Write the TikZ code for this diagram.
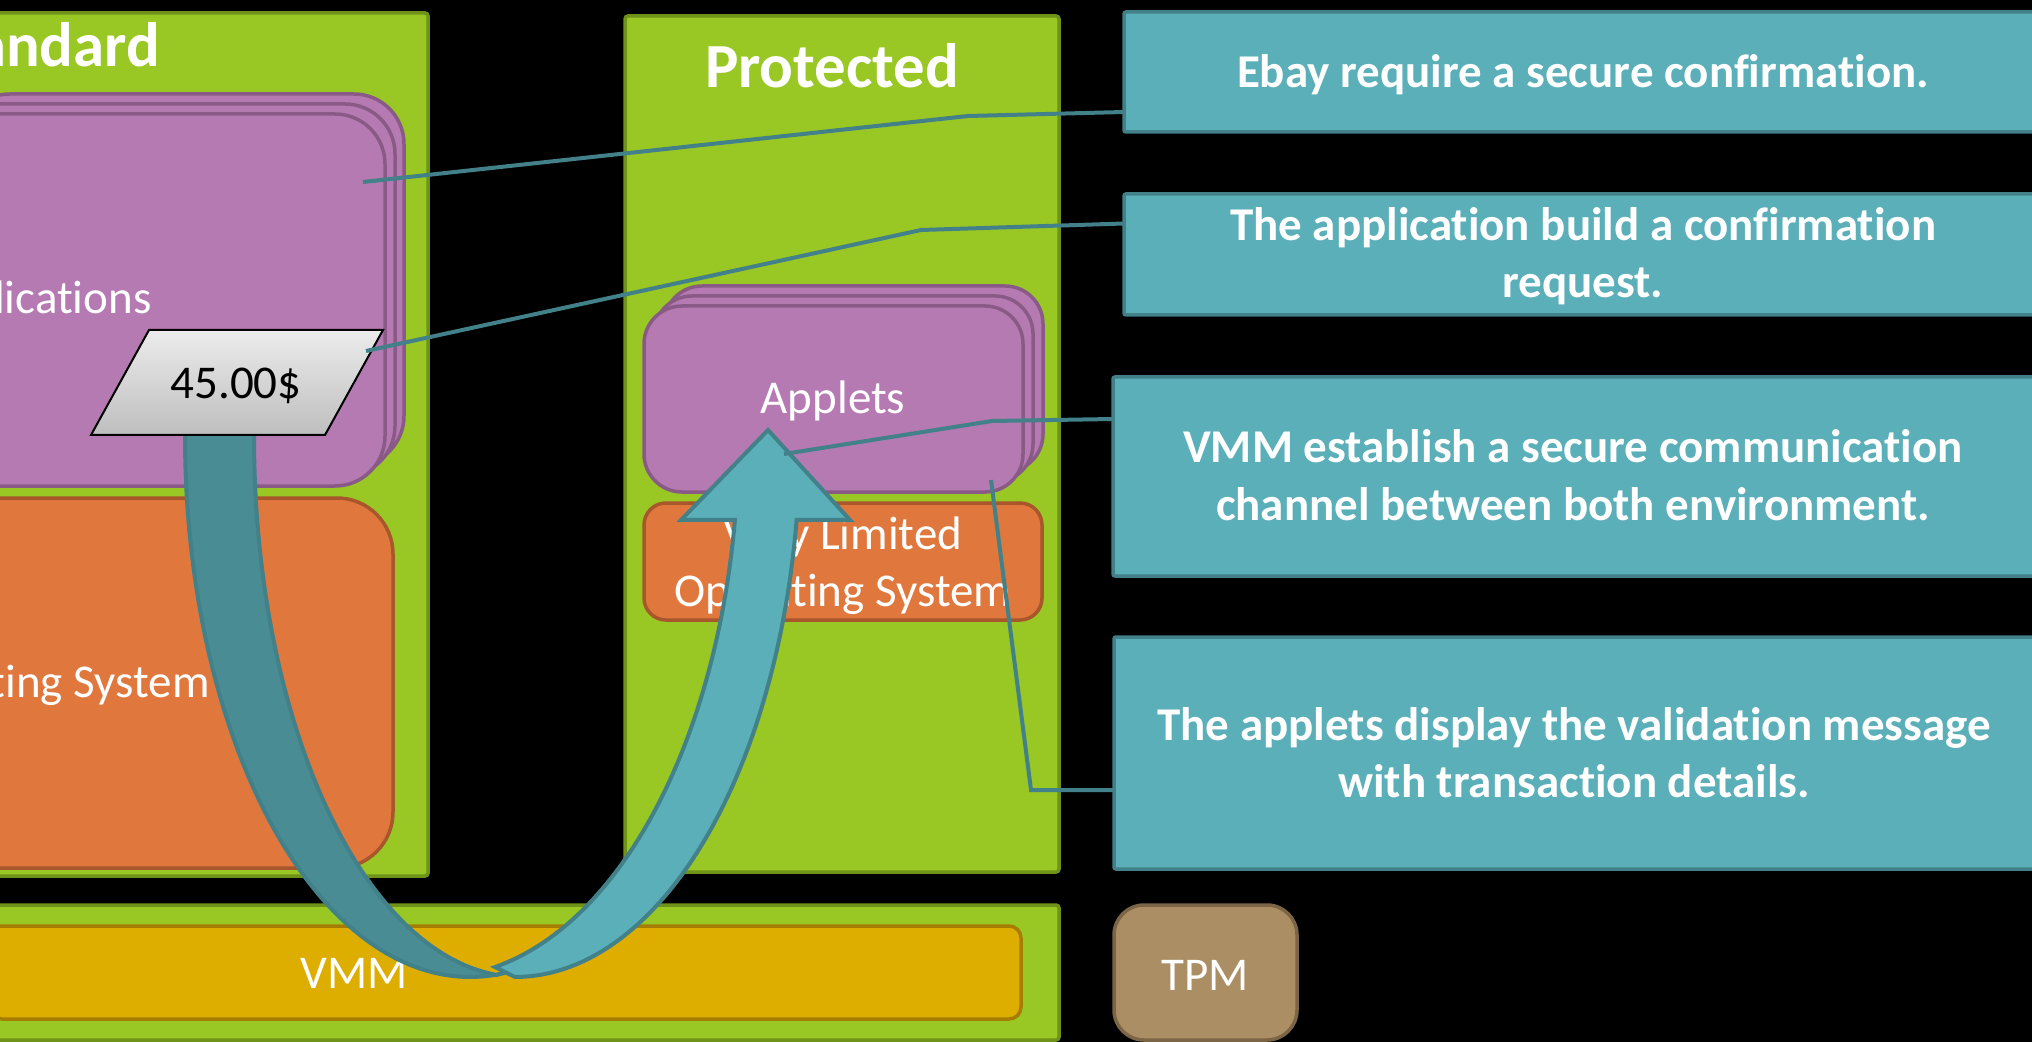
\documentclass[tikz,border=0pt]{standalone}
\usepackage{fontspec}
\setmainfont{Carlito}[Ligatures={NoCommon}]
\usetikzlibrary{calc}
\definecolor{cGrn}{HTML}{99C723}
\definecolor{cGrnB}{HTML}{6E9318}
\definecolor{cPur}{HTML}{B57AB2}
\definecolor{cPurB}{HTML}{8A5A86}
\definecolor{cOrg}{HTML}{E0783E}
\definecolor{cOrgB}{HTML}{A8562B}
\definecolor{cGold}{HTML}{DDAD00}
\definecolor{cGoldB}{HTML}{A67D00}
\definecolor{cTan}{HTML}{AB8E64}
\definecolor{cTanB}{HTML}{7C6546}
\definecolor{cTeal}{HTML}{5AAFB8}
\definecolor{cTealB}{HTML}{42818A}
\definecolor{cTealD}{HTML}{4A8C94}
\definecolor{cPriceT}{HTML}{ECECEC}
\definecolor{cPriceB}{HTML}{BEBEBE}
\newcommand{\mytwo}[2]{\begin{tabular}[t]{@{}c@{}}#1\\#2\end{tabular}}
\begin{document}
\begin{tikzpicture}[x=0.5pt,y=-0.5pt,
  box/.style={draw, line width=1.75pt, inner sep=0pt, outer sep=0pt, anchor=north west},
  greenbox/.style={box, fill=cGrn, draw=cGrnB, rounded corners=1.5pt},
  purbox/.style={box, fill=cPur, draw=cPurB},
  orgbox/.style={box, fill=cOrg, draw=cOrgB},
  callout/.style={box, fill=cTeal, draw=cTealB, rounded corners=1pt},
  conn/.style={draw=cTealB, line width=2pt},
  wtxt/.style={text=white, inner sep=0pt, font=\fontsize{23.5}{28.5}\selectfont},
  ttl/.style={text=white, inner sep=0pt, font=\fontsize{31.4}{37}\selectfont\bfseries},
  ctxt/.style={text=white, inner sep=0pt, font=\fontsize{23.5}{28.5}\selectfont\bfseries},
  band/.style={draw=cTealB, line width=2pt, line join=round},
]
\path[use as bounding box] (0,0) rectangle (2032,1042);
\clip (0,0) rectangle (2032,1042);
\fill[black] (0,0) rectangle (2032,1042);

% environments
\node[greenbox, minimum width=219pt, minimum height=431.5pt] (std) at (-10,13) {};
\node[greenbox, minimum width=217pt, minimum height=428pt] (prot) at (625,16) {};
\node[greenbox, minimum width=534.5pt, minimum height=67.5pt] (hw) at (-10,905) {};
\node[box, fill=cGold, draw=cGoldB, rounded corners=6pt, minimum width=515.5pt, minimum height=46.5pt] (vmm) at (-10,926) {};
\node[box, fill=cTan, draw=cTanB, rounded corners=15pt, minimum width=91.5pt, minimum height=67.5pt] (tpm) at (1114,905) {};

% standard side
\node[purbox, rounded corners=25pt, minimum width=222pt, minimum height=186pt] (appsC) at (-40,94) {};
\node[purbox, rounded corners=25pt, minimum width=222.5pt, minimum height=186pt] (appsB) at (-50,104) {};
\node[purbox, rounded corners=25pt, minimum width=222.5pt, minimum height=186pt] (apps) at (-60,114) {};
\node[orgbox, rounded corners=28pt, minimum width=226.5pt, minimum height=185pt] (os) at (-60,498) {};

% protected side
\node[purbox, rounded corners=19pt, minimum width=189.5pt, minimum height=93pt] (appletsC) at (664,286) {};
\node[purbox, rounded corners=19pt, minimum width=189.5pt, minimum height=93pt] (appletsB) at (654,296) {};
\node[purbox, rounded corners=19pt, minimum width=189.5pt, minimum height=93pt] (applets) at (644,306) {};
\node[orgbox, rounded corners=11pt, minimum width=199pt, minimum height=58.5pt] (vlos) at (644,503) {};

% texts
\node[ttl, anchor=base east] (tStd) at (160,67) {Standard};
\node[ttl, anchor=base] (tProt) at (832,88) {Protected};
\node[wtxt, anchor=base east] (tApps) at (152,314) {Applications};
\node[wtxt, anchor=base east] (tOS) at (210,697) {Operating System};
\node[wtxt, anchor=base] (tApplets) at (833,414) {Applets};
\node[wtxt, anchor=base] (tVlos) at (843,549) {\mytwo{Very Limited}{Operating System}};
\node[wtxt, anchor=base] (tVmm) at (354,988) {VMM};
\node[wtxt, anchor=base] (tTpm) at (1205,990) {TPM};

% curved arrow: back (dark) band
\filldraw[band, fill=cTealD] (185,425) -- (185,437)
  -- plot[domain=180:80, samples=60, variable=\t] ({470+285*cos(\t)},{437+540*sin(\t)})
  -- plot[domain=95:180, samples=60, variable=\t] ({520+266*cos(\t)},{437+540*sin(\t)})
  -- (254,425) -- cycle;
% front (light) band with head
\filldraw[band, fill=cTeal, line join=miter]
  plot[domain=79:8.84, samples=60, variable=\t] ({437.5+301*cos(\t)},{437+540*sin(\t)})
  -- (681,520) -- (768,430) -- (850,520)
  -- plot[domain=8.84:90, samples=60, variable=\t] ({515+285*cos(\t)},{437+540*sin(\t)})
  -- cycle;

% price tag
\shadedraw[draw=black, line width=1pt, top color=cPriceT, bottom color=cPriceB, line join=miter]
  (149,330) -- (383,330) -- (325,435) -- (91,435) -- cycle;
\node[anchor=base, inner sep=0pt, text=black, font=\fontsize{23.5}{28.5}\selectfont] (price) at (236,399) {45.00\$};

% callouts
\node[callout, minimum width=459pt, minimum height=60pt] (c1) at (1124,12) {};
\node[callout, minimum width=459pt, minimum height=60.5pt] (c2) at (1124,194) {};
\node[callout, minimum width=461pt, minimum height=99.5pt] (c3) at (1113,377) {};
\node[callout, minimum width=460.5pt, minimum height=116pt] (c4) at (1114,637) {};

\node[ctxt, anchor=base] (t1) at (1583,88) {Ebay require a secure confirmation.};
\node[ctxt, anchor=base] (t2) at (1583,241) {\mytwo{The application build a confirmation}{request.}};
\node[ctxt, anchor=base] (t3) at (1573,463) {\mytwo{VMM establish a secure communication}{channel between both environment.}};
\node[ctxt, anchor=base] (t4) at (1574,740) {\mytwo{The applets display the validation message}{with transaction details.}};

% connector ends
\coordinate (e1) at (363,182);
\coordinate (e2) at (366,351);
\coordinate (e3) at (784,454);
\coordinate (e4) at (991,480);

\draw[conn] ([yshift=10pt]c1.south west) -- (968,116) -- (e1);
\draw[conn] ([yshift=15.5pt]c2.west) -- (921,230) -- (e2);
\draw[conn] ([yshift=28.75pt]c3.west) -- (992,421) -- (e3);
\draw[conn] ([yshift=-18.5pt]c4.west) -- (1031,790) -- (e4);
\end{tikzpicture}
\end{document}
